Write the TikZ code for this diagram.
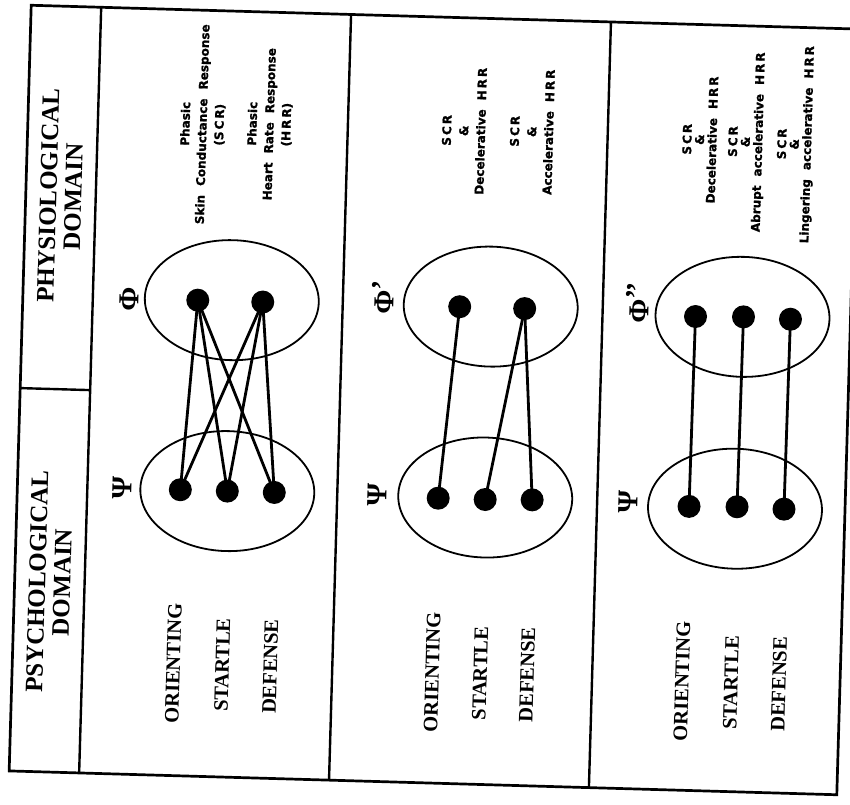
\documentclass[tikz,border=0pt]{standalone}
\usepackage{fontspec}
\setmainfont{Liberation Serif}
\setsansfont{Liberation Sans}
\newfontfamily\respfont{DejaVu Sans Bold}[FakeBold=1.3]
\usetikzlibrary{shapes.geometric}
\newcommand{\gapw}{\hspace{0.75em}}
\newcommand{\primemk}[1]{\raisebox{0.12em}{#1}}
\tikzset{
  frameline/.style={line width=2.7pt},
  divline/.style={line width=2.4pt},
  dotnode/.style={circle, fill=black, inner sep=0pt, minimum size=23pt},
  setnode/.style={ellipse, draw, line width=1.8pt, minimum width=174pt, minimum height=120pt, inner sep=0pt, transform shape},
  linkline/.style={line width=2.8pt},
  statenode/.style={rotate=90, transform shape, inner sep=0pt, font=\bfseries\fontsize{20.5}{22}\selectfont},
  respnode/.style={rotate=90, transform shape, inner sep=0pt, align=center, font=\respfont\fontsize{12}{17}\selectfont},
  resptight/.style={respnode, font=\respfont\fontsize{12}{12.5}\selectfont},
  greeknode/.style={rotate=90, transform shape, inner sep=0pt, font=\bfseries\fontsize{29}{29}\selectfont},
  headnode/.style={rotate=90, transform shape, inner sep=0pt, align=center, font=\bfseries\fontsize{25}{25}\selectfont}
}
\begin{document}
\begin{tikzpicture}
\useasboundingbox (0,0) rectangle (850pt,-804pt);
\begin{scope}[shift={(434pt,-400pt)}, rotate=-1.65, x=1pt, y=-1pt]
% frame and dividers
\draw[frameline] (-414,-383) rectangle (414,383);
\draw[divline] (-344,-383) -- (-344,383);
\draw[divline] (-414,0) -- (-344,0);
\draw[divline] (-94,-383) -- (-94,383);
\draw[divline] (166,-383) -- (166,383);
% headers
\node[headnode] (hphys) at (-379,-193) {PHYSIOLOGICAL\\DOMAIN};
\node[headnode] (hpsy) at (-379,193) {PSYCHOLOGICAL\\DOMAIN};

% ---------- panel 1 ----------
\node[setnode] (e1phi) at (-205,-94) {};
\node[setnode] (e1psi) at (-204,97) {};
\node[greeknode] (l1phi) at (-307,-92) {Φ};
\node[greeknode] (l1psi) at (-309,97) {Ψ};
\node[dotnode] (f1a) at (-239,-93) {};
\node[dotnode] (f1b) at (-174,-93) {};
\node[dotnode] (s1a) at (-251,97) {};
\node[dotnode] (s1b) at (-204,97) {};
\node[dotnode] (s1c) at (-157,97) {};
\foreach \f in {f1a,f1b}{\foreach \s in {s1a,s1b,s1c}{\draw[linkline] (\f.center) -- (\s.center);}}
\node[statenode] (t1a) at (-253,271) {ORIENTING};
\node[statenode] (t1b) at (-204,271) {STARTLE};
\node[statenode] (t1c) at (-156,271) {DEFENSE};
\node[respnode] (r1a) at (-239,-269) {Phasic\\Skin\gapw Conductance\gapw Response\\(S\,C\,R)};
\node[respnode] (r1b) at (-172,-271) {Phasic\\Heart\gapw Rate\gapw Response\\(H\,R\,R)};

% ---------- panel 2 ----------
\node[setnode] (e2phi) at (54,-95) {};
\node[setnode] (e2psi) at (54,96) {};
\node[greeknode, anchor=west] (l2phi) at (-54,-84) {Φ\primemk{’}};
\node[greeknode] (l2psi) at (-54,97) {Ψ};
\node[dotnode] (f2a) at (23,-94) {};
\node[dotnode] (f2b) at (88,-94) {};
\node[dotnode] (s2a) at (7,98) {};
\node[dotnode] (s2b) at (54,98) {};
\node[dotnode] (s2c) at (101,97) {};
\draw[linkline] (f2a.center) -- (s2a.center);
\draw[linkline] (f2b.center) -- (s2b.center);
\draw[linkline] (f2b.center) -- (s2c.center);
\node[statenode] (t2a) at (6,272) {ORIENTING};
\node[statenode] (t2b) at (54,272) {STARTLE};
\node[statenode] (t2c) at (101,272) {DEFENSE};
\node[respnode] (r2a) at (22,-270) {S\,C\,R\\\&\\Decelerative\gapw H\,R\,R};
\node[respnode] (r2b) at (90,-271) {S\,C\,R\\\&\\Accelerative\gapw H\,R\,R};

% ---------- panel 3 ----------
\node[setnode] (e3phi) at (306,-92) {};
\node[setnode] (e3psi) at (304,100) {};
\node[greeknode, anchor=west] (l3phi) at (201,-82) {Φ\primemk{’’}};
\node[greeknode] (l3psi) at (197,96) {Ψ};
\node[dotnode] (f3a) at (259,-91) {};
\node[dotnode] (f3b) at (307,-92) {};
\node[dotnode] (f3c) at (354,-91) {};
\node[dotnode] (s3a) at (258,99) {};
\node[dotnode] (s3b) at (306,98) {};
\node[dotnode] (s3c) at (353,99) {};
\draw[linkline] (f3a.center) -- (s3a.center);
\draw[linkline] (f3b.center) -- (s3b.center);
\draw[linkline] (f3c.center) -- (s3c.center);
\node[statenode] (t3a) at (256,274) {ORIENTING};
\node[statenode] (t3b) at (305,274) {STARTLE};
\node[statenode] (t3c) at (353,274) {DEFENSE};
\node[resptight] (r3a) at (258,-268) {S\,C\,R\\\&\\Decelerative\gapw H\,R\,R};
\node[resptight] (r3b) at (305,-267) {S\,C\,R\\\&\\Abrupt\gapw accelerative\gapw H\,R\,R};
\node[resptight] (r3c) at (354,-266) {S\,C\,R\\\&\\Lingering\gapw accelerative\gapw H\,R\,R};
\end{scope}
\end{tikzpicture}
\end{document}
